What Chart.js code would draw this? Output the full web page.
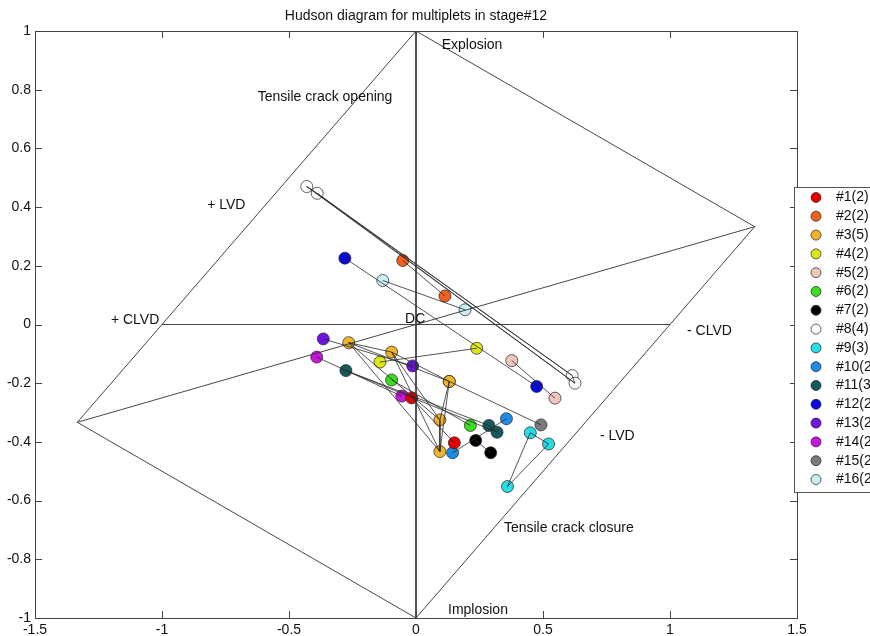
<!DOCTYPE html>
<html>
<head>
<meta charset="utf-8">
<script src="https://cdn.jsdelivr.net/npm/chart.js@4/dist/chart.umd.min.js"></script>
<style>
html,body{margin:0;padding:0;background:#fff;}
#wrap{width:870px;height:636px;position:relative;}
</style>
</head>
<body>
<div id="wrap"><canvas id="c" width="870" height="636"></canvas></div>
<script>
// ---------- data ----------
const titleText = 'Hudson diagram for multiplets in stage#12';
const xTickValues = [-1.5, -1, -0.5, 0, 0.5, 1, 1.5];
const xTickLabels = ['-1.5', '-1', '-0.5', '0', '0.5', '1', '1.5'];
const yTickLabels = ['-1', '-0.8', '-0.6', '-0.4', '-0.2', '0', '0.2', '0.4', '0.6', '0.8', '1'];

const multipletLabels = ['#1(2)', '#2(2)', '#3(5)', '#4(2)', '#5(2)', '#6(2)', '#7(2)', '#8(4)',
  '#9(3)', '#10(2)', '#11(3)', '#12(2)', '#13(2)', '#14(2)', '#15(2)', '#16(2)'];

// each multiplet: [x (T), y (k)] per event
const m1  = [[-0.017, -0.250], [0.151, -0.403]];
const m2  = [[-0.052, 0.218], [0.114, 0.097]];
const m3  = [[-0.265, -0.062], [-0.096, -0.094], [0.131, -0.194], [0.094, -0.325], [0.094, -0.433]];
const m4  = [[-0.142, -0.128], [0.239, -0.081]];
const m5  = [[0.377, -0.123], [0.547, -0.251]];
const m6  = [[-0.096, -0.189], [0.214, -0.344]];
const m7  = [[0.235, -0.395], [0.294, -0.437]];
const m8  = [[-0.430, 0.470], [-0.389, 0.447], [0.615, -0.174], [0.626, -0.200]];
const m9  = [[0.450, -0.369], [0.522, -0.407], [0.360, -0.552]];
const m10 = [[0.356, -0.321], [0.144, -0.437]];
const m11 = [[-0.276, -0.157], [0.287, -0.344], [0.319, -0.367]];
const m12 = [[-0.280, 0.226], [0.475, -0.211]];
const m13 = [[-0.365, -0.049], [-0.013, -0.141]];
const m14 = [[-0.391, -0.111], [-0.056, -0.244]];
const m15 = [[0.131, -0.194], [0.492, -0.342]];
const m16 = [[-0.131, 0.150], [0.193, 0.050]];
const multiplets = [m1, m2, m3, m4, m5, m6, m7, m8, m9, m10, m11, m12, m13, m14, m15, m16];

// Hudson diagram frame (T-k plot)
const diamondOutline = [[0, 1], [1.3333, 0.3333], [0, -1], [-1.3333, -0.3333], [0, 1]];
const clvdAxis = [[-1, 0], [1, 0]];
const isoAxis = [[0, 1], [0, -1]];
const lvdAxis = [[-1.3333, -0.3333], [1.3333, 0.3333]];

const regionLabels = ['Explosion', 'Tensile crack opening', '+ LVD', '+ CLVD', 'DC',
  '- CLVD', '- LVD', 'Tensile crack closure', 'Implosion'];
const regionLabelX = [0.101, -0.623, -0.822, -1.201, -0.043, 1.067, 0.724, 0.346, 0.126];
const regionLabelY = [0.953, 0.774, 0.405, 0.014, 0.017, -0.023, -0.382, -0.695, -0.974];

// ---------- styles ----------
const multipletColors = ['#e60000', '#f0601e', '#f0b428', '#dce614', '#f2c6be', '#3cdc1e',
  '#000000', '#ffffff', '#28dce6', '#1e8ce6', '#145a5a', '#0a0ade', '#6e14dc', '#c814dc',
  '#7a7a7a', '#c8f0f5'];
const FONT = '"Liberation Sans", Arial, Helvetica, sans-serif';
const TEXT = '#111111';
const LINE = '#2a2a2a';

// ---------- build datasets ----------
const toPt = p => ({ x: p[0], y: p[1] });
const gap = { x: null, y: null };
function joinPaths(paths) {
  const out = [];
  paths.forEach(p => { p.forEach(q => out.push(toPt(q))); out.push(gap); });
  return out;
}
function allPairs(m) {
  const segs = [];
  for (let i = 0; i < m.length; i++)
    for (let j = i + 1; j < m.length; j++) segs.push([m[i], m[j]]);
  return segs;
}

const datasets = [];
datasets.push({
  label: 'frame',
  data: joinPaths([diamondOutline, clvdAxis, isoAxis, lvdAxis]),
  showLine: true, pointRadius: 0, borderColor: '#333333', borderWidth: 0.9,
  spanGaps: false, order: 1
});
multiplets.forEach((m, i) => {
  datasets.push({
    label: multipletLabels[i] + ' links',
    data: joinPaths(allPairs(m)),
    showLine: true, pointRadius: 0, borderColor: LINE, borderWidth: 0.8,
    spanGaps: false, order: 2
  });
});
multiplets.forEach((m, i) => {
  datasets.push({
    label: multipletLabels[i],
    data: m.map(toPt),
    showLine: false, pointRadius: 6, pointHoverRadius: 6,
    backgroundColor: multipletColors[i], borderColor: '#202020', borderWidth: 0.7,
    order: 3
  });
});

// ---------- custom drawing ----------
const hudsonPlugin = {
  id: 'hudsonDecor',
  beforeDraw(chart) {
    const ctx = chart.ctx;
    ctx.save();
    ctx.fillStyle = '#ffffff';
    ctx.fillRect(0, 0, chart.width, chart.height);
    ctx.restore();
  },
  afterDatasetsDraw(chart) {
    const ctx = chart.ctx;
    const a = chart.chartArea;
    const xs = chart.scales.x, ys = chart.scales.y;
    ctx.save();
    // axes box
    ctx.strokeStyle = '#444444';
    ctx.lineWidth = 1;
    ctx.strokeRect(Math.round(a.left) + 0.5, Math.round(a.top) + 0.5,
      Math.round(a.right - a.left), Math.round(a.bottom - a.top));
    // inward ticks on all four sides
    const TL = 7;
    ctx.beginPath();
    xs.ticks.forEach(t => {
      const px = Math.round(xs.getPixelForValue(t.value)) + 0.5;
      ctx.moveTo(px, a.bottom); ctx.lineTo(px, a.bottom - TL);
      ctx.moveTo(px, a.top); ctx.lineTo(px, a.top + TL);
    });
    ys.ticks.forEach(t => {
      const py = Math.round(ys.getPixelForValue(t.value)) + 0.5;
      ctx.moveTo(a.left, py); ctx.lineTo(a.left + TL, py);
      ctx.moveTo(a.right, py); ctx.lineTo(a.right - TL, py);
    });
    ctx.stroke();

    // region labels
    ctx.fillStyle = TEXT;
    ctx.font = '14px ' + FONT;
    ctx.textAlign = 'left';
    ctx.textBaseline = 'middle';
    regionLabels.forEach((s, i) => {
      ctx.fillText(s, xs.getPixelForValue(regionLabelX[i]), ys.getPixelForValue(regionLabelY[i]));
    });

    // title
    ctx.textAlign = 'center';
    ctx.fillText(titleText, (a.left + a.right) / 2, 16);

    // legend
    const lx = 794.5, ly = 187.5, lw = 120, lh = 305;
    ctx.fillStyle = '#ffffff';
    ctx.fillRect(lx, ly, lw, lh);
    ctx.strokeStyle = '#555555';
    ctx.lineWidth = 1;
    ctx.strokeRect(lx, ly, lw, lh);
    ctx.textAlign = 'left';
    ctx.textBaseline = 'middle';
    multipletLabels.forEach((s, i) => {
      const cy = 197.5 + i * 18.8;
      ctx.beginPath();
      ctx.arc(816, cy, 5, 0, Math.PI * 2);
      ctx.fillStyle = multipletColors[i];
      ctx.fill();
      ctx.strokeStyle = '#202020';
      ctx.lineWidth = 0.7;
      ctx.stroke();
      ctx.fillStyle = TEXT;
      ctx.fillText(s, 836, cy);
    });
    ctx.restore();
  }
};

new Chart(document.getElementById('c'), {
  type: 'scatter',
  data: { datasets },
  options: {
    responsive: false,
    devicePixelRatio: 1,
    animation: false,
    events: [],
    layout: { padding: { top: 31, right: 73, left: 0, bottom: 0 } },
    plugins: {
      legend: { display: false },
      title: { display: false },
      tooltip: { enabled: false }
    },
    scales: {
      x: {
        type: 'linear', min: -1.5, max: 1.5,
        grid: { display: false, drawTicks: false },
        border: { display: false },
        afterBuildTicks: s => { s.ticks = xTickValues.map(v => ({ value: v })); },
        ticks: {
          autoSkip: false, maxRotation: 0, padding: 4,
          color: TEXT, font: { family: FONT, size: 14 },
          callback: (v, i) => xTickLabels[i]
        },
        afterFit: s => { s.height = 18; }
      },
      y: {
        type: 'linear', min: -1, max: 1,
        grid: { display: false, drawTicks: false },
        border: { display: false },
        ticks: {
          stepSize: 0.2, autoSkip: false, padding: 4,
          color: TEXT, font: { family: FONT, size: 14 },
          callback: (v, i) => yTickLabels[i]
        },
        afterFit: s => { s.width = 35; }
      }
    }
  },
  plugins: [hudsonPlugin]
});
</script>
</body>
</html>
